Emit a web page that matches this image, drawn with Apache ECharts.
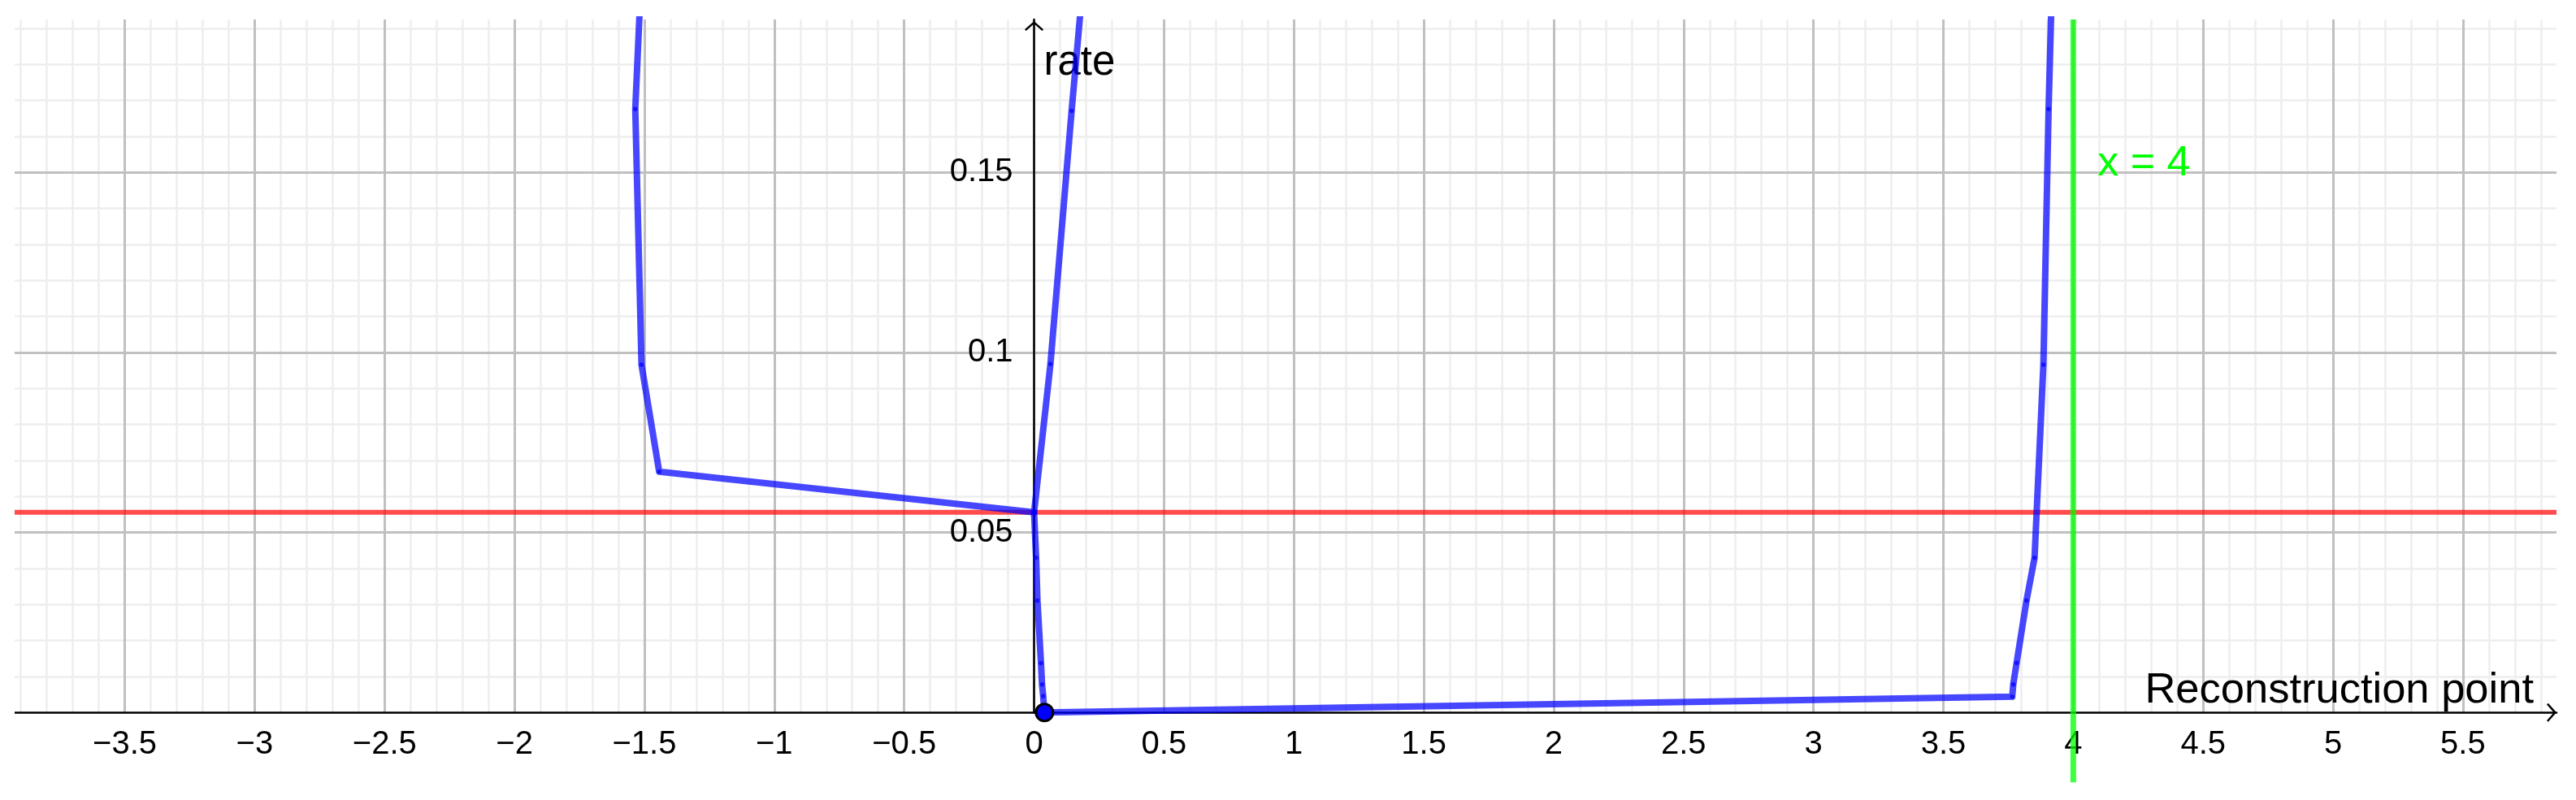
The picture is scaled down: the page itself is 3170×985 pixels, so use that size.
<!DOCTYPE html>
<html>
<head>
<meta charset="utf-8">
<script src="https://cdn.jsdelivr.net/npm/echarts@6/dist/echarts.min.js"></script>
<style>
html, body { margin: 0; padding: 0; background: #ffffff; }
#chart { width: 3170px; height: 985px; }
</style>
</head>
<body>
<div id="chart"></div>
<script>
// ---- axis ranges and tick steps ----
const xMin = -4, xMax = 5.86;
const yMin = 0, yMax = 0.1925;
const xMajorStep = 0.5, xMinorStep = 0.1;
const yMajorStep = 0.05, yMinorStep = 0.01;
const yViewBottom = -0.0194;          // lower edge of the drawing view (below the x axis)

// ---- titles ----
const xAxisTitle = 'Reconstruction point';
const yAxisTitle = 'rate';

// ---- blue curve, branch on the negative side that meets the rate axis and rises again ----
const curveUpper = [
  [-1.515, 0.2], [-1.535, 0.1676], [-1.511, 0.0966], [-1.443, 0.0669],
  [0.0, 0.0556], [0.063, 0.0968], [0.1445, 0.1671], [0.185, 0.2]
];
// ---- blue curve, branch down to the marked point, across, and up near x = 4 ----
const curveLower = [
  [0.0, 0.0556], [0.0078, 0.043], [0.013, 0.0311], [0.0266, 0.0137],
  [0.0307, 0.0078], [0.035, 0.0046], [0.04, 0.0],
  [3.765, 0.0044], [3.769, 0.0078], [3.782, 0.0138], [3.82, 0.0311],
  [3.851, 0.043], [3.885, 0.0966], [3.905, 0.1676], [3.917, 0.2]
];
const markedPoint = [[0.04, 0]];
const rateLevel = 0.0556;              // red horizontal line
const verticalX = 4;                   // green vertical line
const verticalLabel = 'x = 4';

// ---- layout & styles ----
const W = 3170;
const GRID = { left: -6.3, right: 24, top: 24, bottom: 107.7 };
const xUnit = (W - GRID.left - GRID.right) / (xMax - xMin);   // px per x unit
const yAxisShift = -(0 - xMin) * xUnit;                        // place the rate axis at x = 0

const FONT = '"Liberation Sans", Arial, Helvetica, sans-serif';
const BLUE = 'rgba(0,0,255,0.72)';
const RED = 'rgba(255,0,0,0.7)';
const GREEN = 'rgba(0,255,0,0.75)';
const MAJOR_GRID = '#c0c0c0';
const MINOR_GRID = '#eeeeee';
const ARROW = 'path://M12,0 L24,10.6 L22.3,12.5 L12,3.5 L1.7,12.5 L0,10.6 Z';
const fmt = v => (v < 0 ? '\u2212' + String(-v) : String(v));

const chart = echarts.init(document.getElementById('chart'), null, { renderer: 'canvas' });

const option = {
  backgroundColor: '#ffffff',
  animation: false,
  grid: {
    left: GRID.left, right: GRID.right, top: GRID.top, bottom: GRID.bottom,
    containLabel: false, outerBoundsMode: 'none', show: false
  },
  xAxis: [
    {
      type: 'value', min: xMin, max: xMax, interval: xMajorStep, z: 2,
      axisLine: {
        show: true, onZero: false,
        lineStyle: { color: '#000', width: 2.5 },
        symbol: ['none', ARROW], symbolSize: [24, 12], symbolOffset: [0, -6]
      },
      axisTick: { show: false },
      axisLabel: {
        show: true, margin: 19.5, interval: 0, hideOverlap: false,
        showMinLabel: false, showMaxLabel: false,
        fontFamily: FONT, fontSize: 40, color: '#000', formatter: fmt
      },
      splitLine: { show: true, showMinLine: false, showMaxLine: false,
        lineStyle: { color: MAJOR_GRID, width: 3 } },
      name: xAxisTitle, nameLocation: 'end', nameGap: -28, nameMoveOverlap: false,
      nameTextStyle: { fontFamily: FONT, fontSize: 52.5, color: '#000',
        align: 'right', verticalAlign: 'bottom', padding: [0, 0, 0, 0] }
    },
    {
      type: 'value', min: xMin, max: xMax, interval: xMinorStep, z: 0,
      axisLine: { show: false }, axisTick: { show: false }, axisLabel: { show: false },
      splitLine: { show: true, showMinLine: false, showMaxLine: false,
        lineStyle: { color: MINOR_GRID, width: 2.5 } }
    }
  ],
  yAxis: [
    {
      type: 'value', min: yMin, max: yMax, interval: yMajorStep, z: 3,
      position: 'left', offset: yAxisShift,
      axisLine: {
        show: true, onZero: false,
        lineStyle: { color: '#000', width: 2.5 },
        symbol: ['none', ARROW], symbolSize: [24, 12], symbolOffset: [0, -8]
      },
      axisTick: { show: false },
      axisLabel: {
        show: true, margin: 26, showMinLabel: false, showMaxLabel: false,
        hideOverlap: false,
        fontFamily: FONT, fontSize: 40, color: '#000', padding: [7, 0, 0, 0]
      },
      splitLine: { show: true, showMinLine: false, showMaxLine: false,
        lineStyle: { color: MAJOR_GRID, width: 3 } },
      name: yAxisTitle, nameLocation: 'end', nameGap: -28.5, nameMoveOverlap: false,
      nameTextStyle: { fontFamily: FONT, fontSize: 51, color: '#000',
        align: 'left', verticalAlign: 'top', padding: [0, 0, 0, 12] }
    },
    {
      type: 'value', min: yMin, max: yMax, interval: yMinorStep, z: 0,
      position: 'right',
      axisLine: { show: false }, axisTick: { show: false }, axisLabel: { show: false },
      splitLine: { show: true, showMinLine: false, showMaxLine: false,
        lineStyle: { color: MINOR_GRID, width: 2.5 } }
    }
  ],
  series: [
    {
      name: 'rate level', type: 'line', z: 3, silent: true,
      data: [[xMin, rateLevel], [xMax, rateLevel]],
      symbol: 'none', showSymbol: false,
      lineStyle: { color: RED, width: 6 },
      emphasis: { disabled: true }
    },
    {
      name: 'curve upper', type: 'line', data: curveUpper, z: 4,
      symbol: 'circle', symbolSize: 5.5, showSymbol: true,
      itemStyle: { color: BLUE, borderWidth: 0 },
      lineStyle: { color: BLUE, width: 8, cap: 'round', join: 'round' },
      emphasis: { disabled: true }
    },
    {
      name: 'curve lower', type: 'line', data: curveLower, z: 4,
      symbol: 'circle', symbolSize: 5.5, showSymbol: true,
      itemStyle: { color: BLUE, borderWidth: 0 },
      lineStyle: { color: BLUE, width: 8, cap: 'round', join: 'round' },
      emphasis: { disabled: true }
    },
    {
      name: 'x = 4', type: 'line', z: 5, clip: false,
      data: [[verticalX, yMax], [verticalX, yViewBottom]],
      symbol: 'none', showSymbol: false,
      lineStyle: { color: GREEN, width: 7 },
      emphasis: { disabled: true }
    },
    {
      name: 'point', type: 'scatter', data: markedPoint, z: 6, clip: false,
      symbol: 'circle', symbolSize: 21,
      itemStyle: { color: '#0000ff', borderColor: '#000', borderWidth: 3, opacity: 1 },
      emphasis: { disabled: true }
    }
  ]
};

chart.setOption(option);

// annotation text for the vertical line and the left white margin
const gx = chart.convertToPixel({ xAxisIndex: 0 }, verticalX);
chart.setOption({
  graphic: [
    {
      type: 'rect', z: 100, silent: true,
      shape: { x: 0, y: 0, width: 18, height: 985 },
      style: { fill: '#ffffff' }
    },
    {
      type: 'text', z: 100, silent: true,
      x: gx + 30, y: 201.5,
      style: { text: verticalLabel, fill: '#00ff00', font: '52px ' + FONT,
        textAlign: 'left', textVerticalAlign: 'middle' }
    }
  ]
});
</script>
</body>
</html>
